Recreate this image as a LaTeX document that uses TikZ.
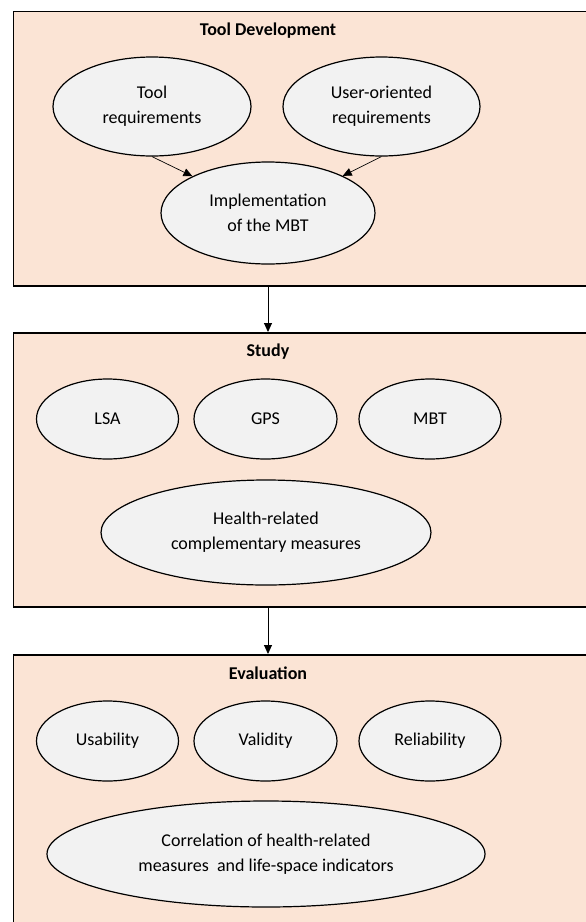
\documentclass[tikz,border=0pt]{standalone}
\usepackage{fontspec}
\setmainfont{Carlito}
\usetikzlibrary{shapes.geometric,arrows.meta}
\definecolor{peach}{HTML}{FBE4D5}
\definecolor{ellfill}{HTML}{F2F2F2}
\tikzset{
  panel/.style={draw=black,fill=peach,line width=1.5pt},
  oval/.style={ellipse,draw=black,fill=ellfill,line width=1.2pt,inner sep=0pt,align=center,
    font=\fontsize{18pt}{25pt}\selectfont},
  ptitle/.style={font=\fontsize{18pt}{25pt}\selectfont\bfseries,inner sep=0pt},
  thinarrow/.style={line width=0.7pt,-{Triangle[length=9pt,width=8pt]}},
  flowarrow/.style={line width=0.9pt,-{Triangle[length=9pt,width=8pt]}}
}
\begin{document}
\begin{tikzpicture}[x=1pt,y=-1pt]
\useasboundingbox (0,0) rectangle (586,922);
\clip (0,0) rectangle (586,922);
\fill[white] (0,0) rectangle (586,922);
% panels
\node[panel,minimum width=600pt,minimum height=274.5pt,anchor=north west,inner sep=0pt] (p1) at (12.5,10.5) {};
\node[panel,minimum width=600pt,minimum height=274pt,anchor=north west,inner sep=0pt] (p2) at (12.5,332) {};
\node[panel,minimum width=600pt,minimum height=290pt,anchor=north west,inner sep=0pt] (p3) at (12.5,654) {};
\coordinate (a1s) at (268,285);
\coordinate (a1e) at (268,332);
\coordinate (a2s) at (268,606);
\coordinate (a2e) at (268,654);
\draw[flowarrow] (a1s) -- (a1e);
\draw[flowarrow] (a2s) -- (a2e);
% titles
\node[ptitle] (t1) at (268,31) {Tool Development};
\node[ptitle] (t2) at (268,352) {Study};
\node[ptitle] (t3) at (268,673) {Evaluation};
% panel 1
\node[oval,minimum width=198pt,minimum height=99pt] (tr) at (152,106.5) {Tool\\requirements};
\node[oval,minimum width=197pt,minimum height=99pt] (ur) at (381.5,106.5) {User-oriented\\requirements};
\node[oval,minimum width=214pt,minimum height=102pt] (im) at (268,213) {Implementation\\of the MBT};
\draw[thinarrow] (tr.south) -- (im);
\draw[thinarrow] (ur.south) -- (im);
% panel 2
\node[oval,minimum width=142pt,minimum height=80pt] (lsa) at (107.5,419) {LSA};
\node[oval,minimum width=143pt,minimum height=80pt] (gps) at (265.5,419) {GPS};
\node[oval,minimum width=142pt,minimum height=80pt] (mbt) at (430,419) {MBT};
\node[oval,minimum width=330pt,minimum height=105pt] (hr) at (266,532.5) {Health-related\\complementary measures};
% panel 3
\node[oval,minimum width=142pt,minimum height=80pt] (us) at (107.5,741) {Usability};
\node[oval,minimum width=143pt,minimum height=80pt] (va) at (265.5,741) {Validity};
\node[oval,minimum width=142pt,minimum height=80pt] (re) at (430,741) {Reliability};
\node[oval,minimum width=438pt,minimum height=106pt] (co) at (266,854) {Correlation of health-related\\measures\ \ and life-space indicators};
\end{tikzpicture}
\end{document}
